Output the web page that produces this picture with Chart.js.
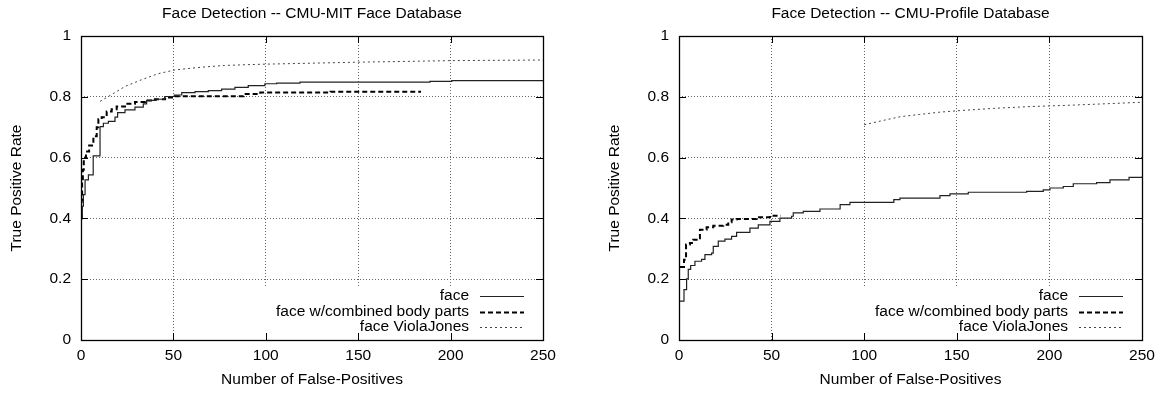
<!DOCTYPE html>
<html><head><meta charset="utf-8">
<script src="https://cdn.jsdelivr.net/npm/chart.js@4"></script>
<style>
html,body{margin:0;padding:0;background:#fff;overflow:hidden}
#wrap{position:relative;width:1164px;height:394px;overflow:hidden}
canvas{position:absolute;top:0}
</style></head><body>
<div id="wrap">
<canvas id="a" width="582" height="394" style="left:0"></canvas>
<canvas id="b" width="582" height="394" style="left:582px"></canvas>
</div>
<script>
// ---- tick labels ----
const xTicks = [0, 50, 100, 150, 200, 250];
const yTicks = [0, 0.2, 0.4, 0.6, 0.8, 1];
const seriesLabels = ['face', 'face w/combined body parts', 'face ViolaJones'];

// ---- CMU-MIT (left) ----
const mitFaceX = [0, 0.7, 1.3, 2.2, 4.0, 6.6, 10.3, 12.1, 14.8, 18.4, 19.8, 23.8, 29.2, 33.7, 35.5, 40.7, 45.3, 50.5, 54.5, 61.7, 68.9, 76.1, 83.3, 90.5, 99.5, 105.9, 118.5, 188.8, 200.6, 250];
const mitFaceY = [0.40, 0.44, 0.478, 0.527, 0.543, 0.606, 0.702, 0.713, 0.719, 0.733, 0.748, 0.757, 0.766, 0.777, 0.788, 0.792, 0.801, 0.806, 0.814, 0.817, 0.820, 0.825, 0.831, 0.837, 0.843, 0.845, 0.848, 0.851, 0.853, 0.855];
const mitBodyX = [0, 0.3, 0.6, 1.0, 1.5, 2.7, 4.4, 6.7, 8.5, 9.4, 11.2, 13.9, 16.6, 19.3, 23.8, 29.2, 34.6, 40.0, 45.5, 50, 88, 97, 135, 184];
const mitBodyY = [0.40, 0.46, 0.52, 0.56, 0.60, 0.62, 0.64, 0.67, 0.70, 0.726, 0.733, 0.752, 0.759, 0.768, 0.777, 0.783, 0.788, 0.792, 0.798, 0.802, 0.809, 0.814, 0.817, 0.817];
const mitViolaX = [10.3, 14.8, 23.8, 32.7, 41.7, 50.5, 59.5, 68.5, 77.5, 86.6, 97.4, 104.6, 151, 200.6, 250];
const mitViolaY = [0.785, 0.801, 0.834, 0.856, 0.876, 0.888, 0.894, 0.899, 0.903, 0.905, 0.907, 0.908, 0.914, 0.919, 0.921];

// ---- CMU-Profile (right) ----
const profFaceX = [0.5, 1.4, 2.7, 4.1, 5.0, 6.3, 8.6, 12.2, 14.0, 17.6, 18.5, 21.2, 24.8, 28.4, 31.1, 38.3, 42.8, 49.1, 54.5, 60.8, 61.7, 67.1, 76.1, 87, 92.3, 112.1, 116, 119.3, 140.9, 146.3, 156.2, 187.7, 196.7, 200.3, 207.5, 212.9, 225.5, 232.7, 243, 250];
const profFaceY = [0.128, 0.128, 0.166, 0.201, 0.232, 0.245, 0.259, 0.265, 0.281, 0.286, 0.308, 0.325, 0.332, 0.341, 0.354, 0.368, 0.379, 0.390, 0.401, 0.407, 0.418, 0.423, 0.431, 0.445, 0.453, 0.453, 0.462, 0.467, 0.475, 0.481, 0.486, 0.489, 0.494, 0.500, 0.505, 0.514, 0.518, 0.527, 0.535, 0.538];
const profBodyX = [0.5, 1.4, 2.7, 3.8, 5.9, 7.7, 9.5, 11.3, 14.9, 18.5, 23.9, 26.6, 28.4, 31.1, 41.9, 49.1, 55];
const profBodyY = [0.24, 0.24, 0.264, 0.314, 0.319, 0.330, 0.335, 0.363, 0.371, 0.376, 0.379, 0.387, 0.396, 0.398, 0.404, 0.409, 0.409];
const profViolaX = [100, 110, 120, 130, 140, 150, 170, 190, 210, 230, 250];
const profViolaY = [0.708, 0.722, 0.735, 0.742, 0.749, 0.754, 0.762, 0.768, 0.772, 0.777, 0.782];

const FONT = 15.5;
Chart.defaults.font.family = "'Liberation Sans', Arial, sans-serif";
Chart.defaults.font.size = FONT;
Chart.defaults.color = '#000';

const pts = (xs, ys) => xs.map((x, i) => ({x: x, y: ys[i]}));

const decor = {
  id: 'decor',
  beforeDatasetsDraw(chart) {
    const a = chart.chartArea, c = chart.ctx;
    c.save();
    c.fillStyle = '#fff';
    c.fillRect(a.left + 181, a.bottom - 54, a.right - a.left - 181, 54);
    c.restore();
  },
  afterDatasetsDraw(chart) {
    const a = chart.chartArea, c = chart.ctx;
    const xs = chart.scales.x, ys = chart.scales.y;
    c.save();
    c.strokeStyle = '#000';
    c.lineWidth = 1;
    c.setLineDash([]);
    c.beginPath();
    xTicks.forEach(v => {
      const p = Math.round(xs.getPixelForValue(v)) + 0.5;
      c.moveTo(p, a.bottom); c.lineTo(p, a.bottom - 7);
      c.moveTo(p, a.top); c.lineTo(p, a.top + 7);
    });
    yTicks.forEach(v => {
      const p = Math.round(ys.getPixelForValue(v)) + 0.5;
      c.moveTo(a.left, p); c.lineTo(a.left + 7, p);
      c.moveTo(a.right, p); c.lineTo(a.right - 7, p);
    });
    c.stroke();
    c.lineWidth = 1.3;
    c.strokeRect(Math.round(a.left) + 0.5, Math.round(a.top) + 0.5, Math.round(a.right - a.left), Math.round(a.bottom - a.top));
    // key
    c.font = FONT + "px 'Liberation Sans', Arial, sans-serif";
    c.textAlign = 'right';
    c.textBaseline = 'middle';
    c.fillStyle = '#000';
    chart.data.datasets.forEach((d, i) => {
      const y = a.bottom - 44 + i * 15.5;
      c.fillText(d.label, a.right - 74, y);
      c.strokeStyle = d.borderColor;
      c.lineWidth = d.borderWidth;
      c.setLineDash(d.borderDash || []);
      c.beginPath();
      c.moveTo(a.right - 63, Math.round(y) + 0.5);
      c.lineTo(a.right - 19, Math.round(y) + 0.5);
      c.stroke();
    });
    c.restore();
  }
};

function makeChart(id, title, series, yAxisWidth, padRight, yTitlePad) {
  const styles = [
    {borderColor: '#222', borderWidth: 1.2, borderDash: [], stepped: true},
    {borderColor: '#000', borderWidth: 2, borderDash: [5, 3], stepped: true},
    {borderColor: '#444', borderWidth: 1, borderDash: [2, 3], stepped: false}
  ];
  return new Chart(document.getElementById(id), {
    type: 'line',
    data: {
      datasets: series.map((s, i) => Object.assign({
        label: seriesLabels[i],
        data: s,
        pointRadius: 0,
        fill: false,
        tension: 0
      }, styles[i]))
    },
    options: {
      responsive: false,
      animation: false,
      layout: {padding: {left: 0, right: padRight, top: 0, bottom: 0}},
      plugins: {
        legend: {display: false},
        tooltip: {enabled: false},
        title: {
          display: true, text: title, fullSize: false,
          font: {size: FONT, weight: 'normal'}, color: '#000',
          padding: {top: 4, bottom: 13.4}
        }
      },
      scales: {
        x: {
          type: 'linear', min: 0, max: 250,
          afterBuildTicks: s => { s.ticks = xTicks.map(v => ({value: v})); },
          afterFit: s => { s.height = 54; },
          ticks: {padding: 6, maxRotation: 0, callback: v => String(v)},
          grid: {color: '#666', lineWidth: 1, drawTicks: false},
          border: {display: false, dash: [1, 2]},
          title: {display: true, text: 'Number of False-Positives', padding: {top: 0, bottom: 4.7}}
        },
        y: {
          type: 'linear', min: 0, max: 1,
          afterBuildTicks: s => { s.ticks = yTicks.map(v => ({value: v})); },
          afterFit: s => { s.width = yAxisWidth; },
          ticks: {padding: 10, callback: v => String(v)},
          grid: {color: '#666', lineWidth: 1, drawTicks: false},
          border: {display: false, dash: [1, 2]},
          title: {display: true, text: 'True Positive Rate', padding: {top: yTitlePad, bottom: 0}}
        }
      }
    },
    plugins: [decor]
  });
}

makeChart('a', 'Face Detection -- CMU-MIT Face Database',
  [pts(mitFaceX, mitFaceY), pts(mitBodyX, mitBodyY), pts(mitViolaX, mitViolaY)], 81, 39, 7.7);
makeChart('b', 'Face Detection -- CMU-Profile Database',
  [pts(profFaceX, profFaceY), pts(profBodyX, profBodyY), pts(profViolaX, profViolaY)], 97, 22, 23.7);
</script>
</body></html>
